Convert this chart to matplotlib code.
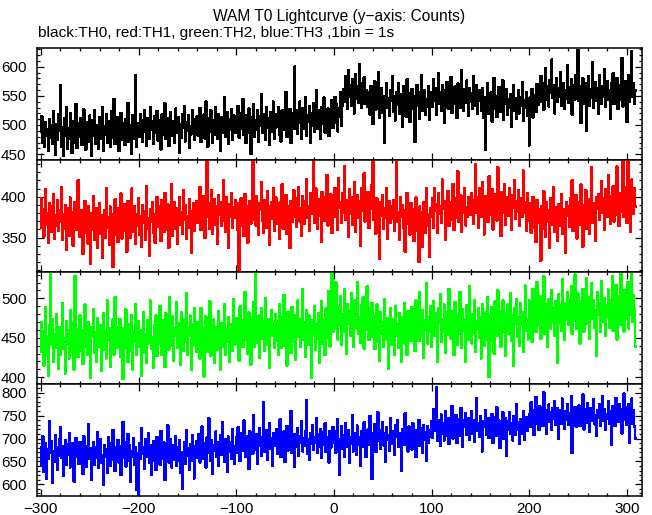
import numpy as np
import matplotlib
matplotlib.use("Agg")
import matplotlib.pyplot as plt
from matplotlib.ticker import MultipleLocator

# ---------------- data (counts per 1 s bin) ----------------
time_start = -300  # first bin, seconds from T0
bin_size = 1       # 1bin = 1s

th0_black = [
488, 515, 470, 497, 462, 505, 481, 492, 455, 510, 478, 499, 467, 523, 486, 449, 502, 474, 518, 490,
568, 463, 496, 447, 511, 482, 530, 459, 494, 476, 521, 488, 452, 507, 470, 499, 536, 461, 485, 503,
479, 512, 466, 498, 527, 483, 458, 505, 490, 472, 516, 494, 447, 509, 481, 525, 468, 500, 487, 460,
513, 492, 476, 531, 455, 498, 484, 519, 470, 506, 489, 462, 523, 496, 478, 545, 467, 501, 485, 514,
456, 492, 520, 474, 503, 488, 466, 510, 495, 538, 471, 499, 483, 450, 517, 490, 476, 585, 462, 497,
503, 480, 519, 494, 471, 508, 526, 489, 465, 512, 498, 477, 531, 492, 506, 468, 515, 487, 500, 524,
473, 509, 495, 458, 518, 483, 502, 537, 476, 497, 511, 464, 489, 522, 499, 481, 507, 470, 528, 493,
486, 514, 452, 501, 478, 519, 496, 533, 472, 505, 490, 517, 461, 498, 484, 526, 503, 475, 510, 492,
515, 482, 498, 529, 471, 506, 493, 518, 477, 540, 499, 463, 512, 488, 525, 496, 470, 509, 484, 531,
502, 476, 519, 493, 456, 514, 487, 505, 548, 480, 497, 522, 468, 510, 491, 527, 475, 503, 516, 486,
512, 490, 533, 478, 506, 521, 494, 545, 483, 508, 469, 517, 499, 528, 487, 450, 514, 502, 536, 480,
509, 492, 525, 471, 515, 498, 553, 486, 507, 519, 474, 530, 495, 511, 466, 522, 503, 489, 540, 477,
518, 496, 509, 531, 484, 506, 472, 525, 500, 514, 491, 557, 480, 512, 498, 527, 469, 508, 520, 493,
600, 498, 526, 485, 515, 540, 503, 477, 529, 511, 494, 548, 482, 517, 506, 533, 470, 521, 499, 538,
488, 514, 560, 493, 525, 509, 476, 531, 502, 518, 547, 487, 512, 496, 528, 481, 519, 505, 542, 495,
520, 548, 503, 536, 489, 529, 514, 557, 498, 533,
562, 540, 583, 551, 527, 594, 548, 569, 533, 578, 556, 520, 587, 545, 566, 538, 604, 553, 529, 571,
547, 582, 536, 560, 549,
531, 556, 518, 567, 540, 502, 553, 575, 526, 548, 537, 590, 512, 545, 563, 521, 550, 469, 538, 571,
529, 546, 515, 560, 541, 584, 523, 549, 508, 557, 535, 572, 519, 544, 552, 497, 566, 530, 548, 514,
578, 539, 555, 505, 543, 562, 527, 550, 471, 538, 569, 533, 556, 511, 547, 586, 524, 541, 559, 518,
545, 532, 567, 509, 551,
556, 532, 579, 541, 563, 518, 550, 589, 536, 557, 525, 568, 545, 503, 560, 539, 574, 528, 553, 546,
582, 521, 559, 537, 566, 549, 512, 571, 543, 557, 530, 594, 547, 524, 561, 538, 576, 551, 515, 563,
540, 555, 528, 584, 546, 533, 569, 519, 552, 560,
541, 525, 563, 512, 548, 458, 536, 572, 519, 545, 530, 556, 506, 541, 580, 527, 549, 514, 538, 565,
522, 543, 531, 577, 509, 548, 536, 561, 518, 544, 529, 553, 497, 540, 568, 524, 546, 511, 537, 559,
520, 548, 533, 574, 507, 542, 529, 556, 515, 539, 465, 547, 527, 562, 513, 538, 551, 522, 570, 534,
561, 539, 584, 550, 572, 526, 559, 598, 543, 566, 532, 577, 555, 612, 547, 569, 520, 558, 581, 540,
563, 549, 591, 533, 556, 571, 527, 560, 545, 603, 538, 565, 552, 579, 518, 557, 568, 544, 586, 550,
628, 541, 566, 503, 559, 580, 537, 552, 571, 490, 558, 584, 533, 562, 547, 608, 529, 555, 574, 541,
563, 520, 586, 550, 537, 567, 549, 596, 531, 558, 575, 543, 560, 510, 571, 552, 589, 536, 563, 546,
581, 527, 556, 569, 544, 615, 532, 561, 550, 575, 505, 558, 586, 540, 566, 627, 548, 571, 536, 559,
]

th1_red = [
398, 362, 385, 351, 376, 409, 366, 380, 344, 392, 371, 357, 388, 403, 349, 377, 365, 396, 358, 383,
370, 412, 347, 379, 361, 390, 335, 374, 386, 352, 399, 368, 381, 340, 375, 394, 359, 372, 420, 363,
351, 384, 367, 330, 378, 395, 356, 372, 343, 389, 364, 318, 380, 360, 401, 347, 374, 386, 338, 369,
392, 355, 377, 325, 366, 383, 350, 411, 362, 375, 341, 388, 358, 371, 314, 380, 397, 353, 368, 345,
386, 362, 404, 349, 377, 391, 358, 370, 333, 395, 366, 381, 350, 410, 372, 357, 388, 343, 379, 365,
398, 354, 376, 339, 390, 368, 382, 347, 413, 361, 374, 328, 385, 370, 393, 356, 379, 344, 367, 400,
363, 389, 371, 346, 396, 380, 357, 405, 374, 360, 391, 338, 383, 369, 415, 352, 378, 394, 361, 386,
342, 375, 399, 366, 381, 355, 408, 372, 390, 349, 376, 362, 397, 383, 331, 379, 392, 358, 385, 370,
395, 368, 386, 412, 359, 377, 401, 373, 350, 389, 446, 375, 392, 361, 384, 408, 355, 380, 397, 366,
388, 343, 402, 378, 393, 364, 385, 420, 371, 357, 399, 382, 338, 391, 376, 405, 362, 387, 374, 396,
383, 359, 392, 310, 371, 398, 364, 385, 352, 403, 376, 389, 344, 381, 395, 367, 380, 446, 372, 390,
365, 401, 378, 353, 392, 384, 418, 370, 356, 396, 381, 362, 407, 388, 341, 379, 394, 373, 411, 358,
386, 399, 367, 382, 348, 393, 376, 415, 361, 385, 372, 402, 355, 389, 378, 337, 395, 369, 384, 408,
376, 398, 363, 391, 412, 370, 386, 352, 401, 381, 367, 395, 422, 374, 389, 358, 404, 379, 393, 446,
368, 385, 410, 361, 397, 377, 390, 345, 406, 383, 371, 399, 387, 427, 365, 392, 380, 403, 356, 394,
382, 411, 375, 398, 360, 423, 387, 394, 368, 405, 381, 437, 372, 396, 388, 351, 409, 379, 400, 366,
392, 418, 357, 385, 402, 374, 395, 340, 411, 383, 389, 429, 370, 397, 377, 406, 362, 393, 385, 414,
446, 372, 389, 355, 398, 381, 366, 324, 393, 377, 402, 361, 386, 374, 411, 349, 383, 395, 368, 388,
373, 396, 358, 385, 442, 369, 381, 347, 400, 376, 390, 362, 384, 333, 378, 405, 367, 389, 354, 392,
362, 385, 346, 371, 399, 358, 376, 320, 388, 367, 381, 339, 393, 372, 356, 410, 364, 379, 326, 386,
375, 398, 362, 410, 383, 391, 356, 404, 379, 388, 368, 421, 385, 395, 347, 390, 377, 407, 364, 393,
382, 372, 416, 359, 398, 386, 374, 431, 369, 389, 402, 357, 395, 380, 411, 365, 387, 375, 400, 391,
378, 404, 385, 367, 396, 440, 381, 399, 362, 411, 389, 375, 418, 393, 354, 401, 384, 396, 369, 425,
387, 378, 409, 360, 394, 383, 403, 371, 436, 388, 397, 352, 406, 380, 392, 415, 366, 399, 385, 377,
410, 391, 359, 402, 386, 420, 373, 395, 382, 408, 364, 398, 389, 376, 432, 381, 393, 358, 405, 387,
371, 392, 356, 384, 400, 362, 379, 345, 396, 368, 385, 374, 322, 389, 361, 407, 376, 351, 393, 370,
383, 338, 398, 366, 380, 412, 357, 387, 373, 346, 391, 364, 379, 403, 355, 385, 369, 331, 394, 377,
389, 363, 398, 374, 420, 358, 385, 370, 402, 349, 381, 393, 366, 415, 377, 339, 390, 372, 408, 361,
384, 397, 355, 379, 436, 368, 392, 375, 346, 400,
385, 403, 372, 396, 419, 381, 398, 360, 409, 388, 376, 426, 392, 367, 401, 384, 413, 370, 395, 378,
437, 389, 364, 405, 382, 398, 446, 375, 391, 412, 368, 443, 386, 400, 357, 421, 393, 379, 410, 388,
]

th2_green = [
470, 432, 458, 415, 446, 489, 427, 452, 402, 466, 531, 441, 474, 420, 455, 437, 480, 448, 411, 463,
429, 457, 494, 436, 450, 405, 471, 443, 459, 424, 485, 447, 432, 468, 410, 528, 440, 461, 426, 453,
478, 434, 460, 417, 449, 492, 438, 455, 428, 470, 444, 399, 463, 451, 486, 431, 457, 420, 475, 446,
439, 466, 408, 452, 481, 435, 458, 424, 497, 447, 462, 413, 455, 440, 473, 429, 501, 450, 437, 464,
441, 474, 426, 455, 398, 462, 437, 486, 448, 419, 467, 452, 433, 479, 410, 458, 445, 493, 429, 456,
471, 438, 460, 402, 449, 483, 431, 454, 418, 472, 443, 461, 497, 436, 451, 412, 466, 440, 478, 427,
463, 442, 490, 451, 428, 472, 456, 413, 481, 447, 466, 435, 502, 459, 440, 477, 421, 462, 453, 495,
437, 468, 449, 416, 483, 458, 434, 474, 445, 506, 429, 463, 452, 478, 409, 467, 441, 487, 455, 432,
470, 438, 459, 424, 488, 446, 463, 401, 455, 477, 432, 461, 449, 496, 427, 458, 442, 473, 418, 464,
451, 435, 484, 447, 410, 468, 439, 456, 492, 428, 461, 445, 476, 420, 453, 467, 434, 499, 441, 458,
475, 443, 467, 421, 490, 455, 472, 438, 461, 508, 447, 469, 430, 482, 458, 416, 476, 451, 495, 439,
532, 462, 444, 478, 425, 466, 487, 449, 471, 434, 500, 457, 441, 474, 412, 463, 485, 452, 468, 437,
480, 446, 471, 428, 493, 458, 437, 476, 462, 504, 440, 469, 415, 483, 455, 472, 431, 489, 460, 445,
478, 422, 466, 497, 451, 474, 438, 461, 512, 447, 470, 426, 485, 456, 441, 478, 463, 399, 472, 454,
490, 435, 467, 449, 481, 418, 459, 496, 443, 473, 457, 428, 487, 464, 450, 509, 439, 470, 533, 458,
495, 462, 520, 471, 448, 489, 466, 503, 441, 480, 458, 512, 474, 430, 493, 468, 485, 452, 507, 477,
439, 498, 463, 482, 521, 455, 476, 444, 491, 469, 501, 436, 484, 460, 515, 472, 447, 488, 465, 494,
451, 478, 436, 467, 492, 445, 460, 421, 483, 455, 470, 438, 499, 462, 448, 475, 411, 466, 487, 441,
458, 473, 429, 490, 453, 467, 437, 481, 462, 419, 476, 450, 494, 443, 465, 428, 484, 457, 471, 446,
489, 455, 474, 433, 497, 462, 479, 446, 508, 467, 451, 485, 425, 472, 460, 519, 443, 476, 457, 490,
438, 470, 496, 452, 481, 463, 420, 487, 469, 505, 445, 474, 458, 492, 431, 466, 483, 454, 512, 471,
449, 484, 462, 428, 495, 470, 441, 479, 455, 508, 466, 437, 486, 459, 473, 420, 491, 464, 447, 515,
468, 443, 480, 456, 497, 432, 471, 462, 488, 450, 476, 424, 493, 465, 440, 482, 459, 501, 446, 400,
478, 445, 489, 461, 430, 496, 473, 452, 510, 467, 484, 439, 475, 497, 458, 481, 427, 470, 492, 455,
463, 506, 446, 479, 414, 487, 468, 499, 451, 476, 440, 494, 466, 483, 432, 471, 516, 459, 474, 448,
497, 463, 486, 445, 512, 474, 490, 457, 521, 480, 466, 503, 449, 488, 471, 528, 455, 493, 476, 438,
499, 482, 462, 510, 470, 487, 452, 496, 478, 418, 505, 468, 491, 459, 524, 483, 447, 494, 473, 508,
466, 499, 478, 515, 455, 490, 472, 530, 484, 461, 506, 487, 443, 496, 476, 512, 458, 493, 481, 525,
468, 502, 449, 488, 519, 474, 497, 463, 485, 427, 508, 479, 494, 457, 522, 486, 470, 500, 452, 491,
476, 511, 463, 497, 485, 528, 459, 492, 471, 517, 448, 489, 503, 466, 532, 480, 495, 458, 510, 474,
487, 521, 462, 498, 479, 533, 470, 504, 486, 439,
]

th3_blue = [
640, 682, 705, 628, 661, 690, 612, 676, 655, 738, 668, 694, 603, 672, 649, 707, 680, 631, 663, 698,
725, 657, 684, 618, 670, 696, 642, 688, 665, 711, 637, 679, 652, 690, 606, 673, 701, 660, 686, 645,
692, 648, 673, 622, 705, 661, 684, 639, 670, 731, 655, 678, 610, 667, 693, 642, 680, 657, 713, 635,
671, 698, 646, 664, 599, 685, 659, 676, 625, 702, 668, 640, 690, 653, 719, 664, 629, 681, 656, 697,
648, 684, 620, 669, 736, 657, 693, 639, 676, 710, 651, 686, 605, 672, 660, 701, 643, 680, 588, 667,
574, 690, 655, 723, 666, 681, 634, 698, 659, 676, 712, 647, 685, 621, 670, 695, 652, 688, 631, 703,
664, 679, 643, 717, 672, 656, 691, 610, 683, 660, 729, 648, 677, 699, 637, 668, 686, 654, 706, 641,
680, 652, 697, 625, 671, 590, 658, 693, 644, 718, 663, 679, 632, 687, 651, 708, 670, 613, 684, 657,
695, 661, 710, 648, 684, 726, 655, 690, 672, 637, 702, 668, 744, 680, 651, 697, 622, 686, 673, 715,
659, 693, 640, 681, 707, 664, 735, 676, 649, 698, 687, 628, 704, 670, 692, 655, 720, 683, 645, 677,
702, 668, 725, 683, 651, 697, 712, 674, 739, 688, 659, 706, 692, 633, 716, 681, 698, 667, 751, 690,
676, 709, 645, 694, 722, 685, 662, 703, 780, 671, 697, 718, 654, 689, 734, 678, 700, 641, 711, 684,
696, 721, 667, 705, 688, 742, 659, 699, 680, 715, 649, 692, 727, 674, 703, 686, 760, 669, 697, 710,
638, 694, 681, 723, 662, 706, 690, 737, 672, 700, 684, 717, 783, 666, 698, 654, 712, 689, 729, 676,
703, 691, 745, 668, 709, 682, 720, 657, 696, 714, 687, 733, 670, 702, 693, 648, 716, 680, 706, 725,
690, 716, 669, 704, 742, 685, 621, 698, 726, 677, 707, 659, 733, 694, 681, 718, 646, 702, 689, 750,
672, 711, 696, 664, 728, 687, 703, 641, 715, 698, 681, 735, 708, 660, 694, 720, 686, 749, 699, 612,
712, 688, 731, 670, 705, 757, 694, 719, 678, 702, 736, 685, 711, 650, 724, 697, 708, 674, 745, 700,
689, 716, 665, 729, 703, 740, 681, 712, 694, 630, 721, 706, 687, 755, 699, 714, 672, 726, 691, 708,
676, 733, 702, 718, 660, 711, 695, 741, 684, 707, 722, 669, 730, 698, 713, 652, 727, 690, 704, 719,
738, 702, 765, 717, 729, 812, 694, 741, 720, 683, 752, 710, 733, 696, 760, 724, 706, 745, 688, 732,
719, 771, 700, 736, 714, 751, 690, 728, 742, 705, 767, 721, 682, 739, 725, 756, 708, 731, 744, 697,
723, 759, 711, 740, 693, 727, 788, 716, 734, 703, 748, 720, 672, 737, 726, 762, 709, 730, 745, 701,
735, 712, 754, 690, 729, 746, 705, 768, 722, 739, 679, 731, 715, 757, 700, 727, 744, 662, 720, 737,
758, 710, 733, 696, 749, 723, 707, 776, 718, 735, 689, 742, 726, 711, 760, 698, 730, 747, 716, 740,
752, 725, 779, 740, 761, 708, 746, 790, 733, 758, 719, 770, 744, 756, 727, 801, 739, 762, 711, 749,
774, 736, 757, 718, 766, 743, 782, 729, 752, 767, 700, 745, 761, 733, 787, 748, 722, 759, 741, 776,
729, 755, 745, 793, 668, 751, 738, 769, 726, 760,
741, 772, 728, 757, 749, 796, 720, 763, 744, 735, 778, 752, 714, 767, 739, 758, 785, 731, 750, 706,
761, 745, 774, 727, 756, 792, 738, 764, 719, 753, 742, 781, 733, 759, 686, 770, 747, 761, 727, 789,
752, 736, 775, 744, 763, 711, 756, 798, 740, 768, 729, 755, 775, 691, 749, 787, 732, 762, 726, 700,
]

series = [th0_black, th1_red, th2_green, th3_blue]
colors = ["#000000", "#ff0000", "#00ff00", "#0000ff"]
y_limits = [(440, 632), (308, 445), (391.5, 533.3), (574.5, 819)]
x_limits = (-304, 315)

title = "WAM T0 Lightcurve (y\u2212axis: Counts)"
subtitle = "black:TH0, red:TH1, green:TH2, blue:TH3 ,1bin = 1s"

# ---------------- figure ----------------
FONT = "Liberation Sans"
W, H = 652, 515
fig = plt.figure(figsize=(W / 100, H / 100), dpi=100)

left_px, right_px, top_px, panel_h = 37, 641.5, 48, 112
axes = []
for i, (vals, col, ylim) in enumerate(zip(series, colors, y_limits)):
    bottom_px = top_px + panel_h * (i + 1)
    ax = fig.add_axes([left_px / W, (H - bottom_px) / H,
                       (right_px - left_px) / W, panel_h / H])
    t = time_start + bin_size * np.arange(len(vals))
    ax.plot(t, vals, drawstyle="steps-mid", color=col, lw=1.0,
            antialiased=False)
    ax.set_xlim(*x_limits)
    ax.set_ylim(*ylim)
    ax.xaxis.set_major_locator(MultipleLocator(100))
    ax.xaxis.set_minor_locator(MultipleLocator(20))
    ax.yaxis.set_major_locator(MultipleLocator(50))
    ax.yaxis.set_minor_locator(MultipleLocator(10))
    ax.tick_params(which="both", direction="in", top=True, right=True,
                   width=0.9, colors="black")
    ax.tick_params(which="major", length=5.0)
    ax.tick_params(which="minor", length=2.5)
    ax.tick_params(axis="y", pad=7.5, labelsize=11)
    ax.tick_params(axis="x", pad=4, labelsize=11)
    for lab in ax.get_xticklabels() + ax.get_yticklabels():
        lab.set_fontfamily(FONT)
    for sp in ax.spines.values():
        sp.set_linewidth(1.1)
    if i < 3:
        ax.tick_params(axis="x", labelbottom=False)
    axes.append(ax)

fig.text(339 / W, 1 - 20.7 / H, title, ha="center", va="baseline",
         fontsize=11.2, family=FONT)
fig.text(37.5 / W, 1 - 37.5 / H, subtitle, ha="left", va="baseline",
         fontsize=11.1, family=FONT)

fig.savefig("out.png", dpi=100)
